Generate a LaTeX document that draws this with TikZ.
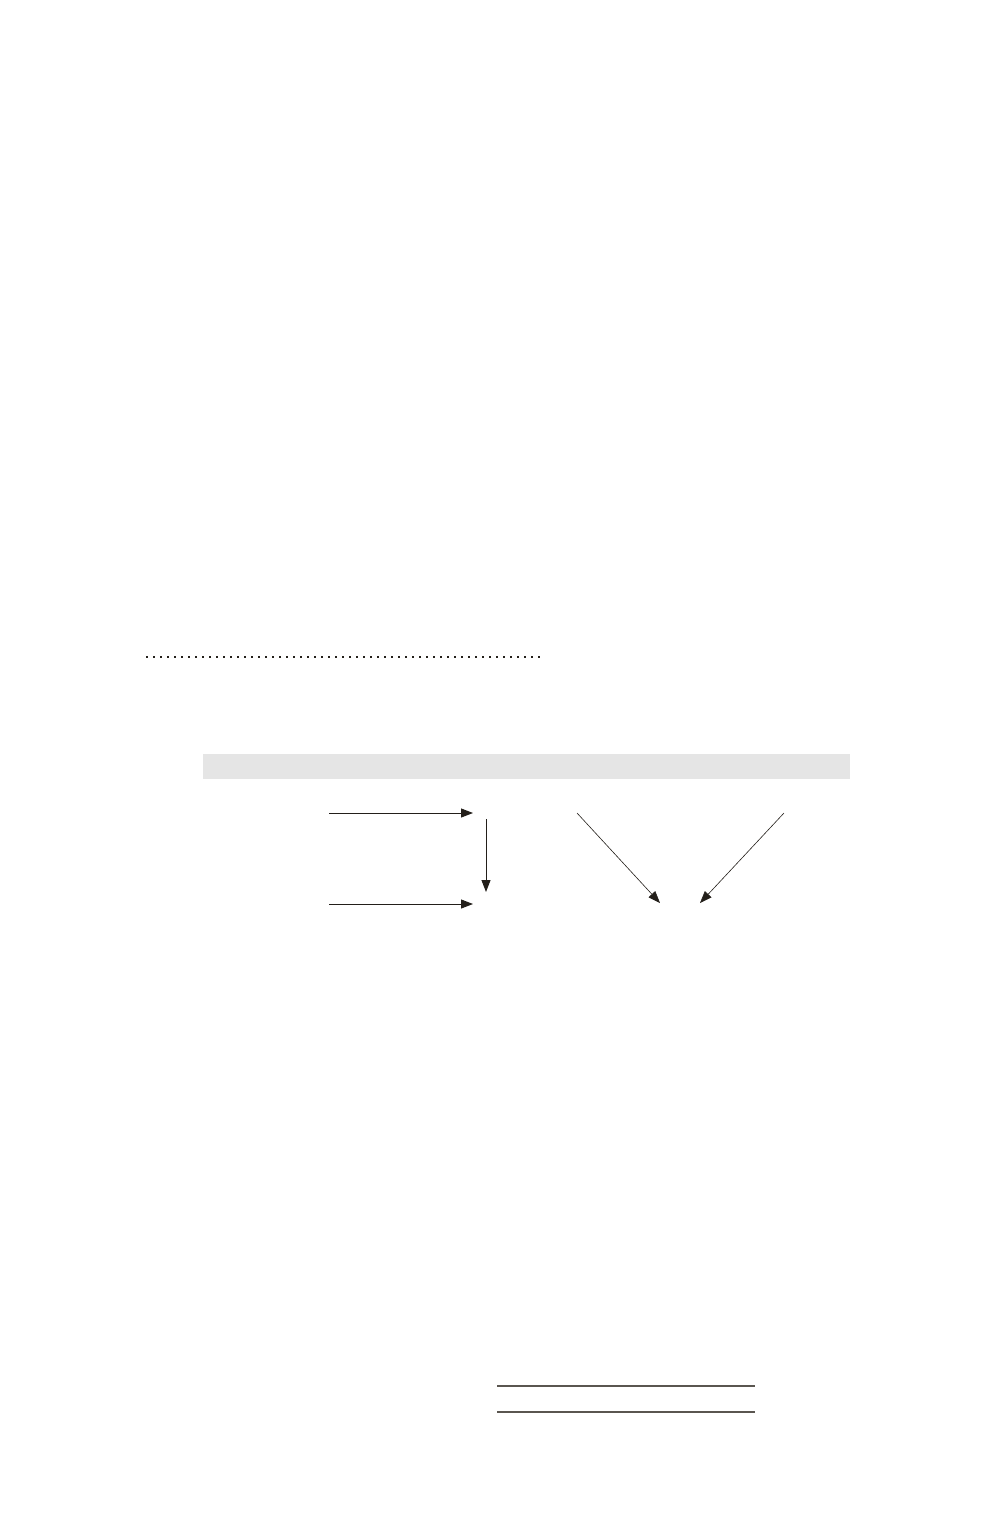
\documentclass[tikz,border=0pt]{standalone}
\usetikzlibrary{arrows.meta}
\definecolor{ink}{HTML}{231F1A}
\definecolor{band}{HTML}{E5E5E5}
\definecolor{rule}{HTML}{5A5650}
\begin{document}
\begin{tikzpicture}[x=1pt,y=-1pt,
  arr/.style={draw=ink,line width=1pt,-{Triangle[length=12pt,width=9pt]}},
  thinarr/.style={draw=ink,line width=0.6pt,-{Triangle[length=12pt,width=9pt]}},
  dotline/.style={draw=ink,line width=2pt,dash pattern=on 2pt off 5pt},
  hrule/.style={draw=rule,line width=1.3pt}]
\useasboundingbox (0,0) rectangle (1000,1528);
\fill[band] (203,754) rectangle (850,779);
\coordinate (d1) at (146,657);
\coordinate (d2) at (540,657);
\draw[dotline] (d1) -- (d2);
\coordinate (a1s) at (329,813);
\coordinate (a1e) at (473,813);
\coordinate (a2s) at (329,904);
\coordinate (a2e) at (473,904);
\coordinate (vs) at (486,819);
\coordinate (ve) at (486,892);
\coordinate (l1s) at (577,813);
\coordinate (l1e) at (660,903);
\coordinate (l2s) at (784,813);
\coordinate (l2e) at (700,903);
\draw[arr] (a1s) -- (a1e);
\draw[arr] (a2s) -- (a2e);
\draw[arr] (vs) -- (ve);
\draw[thinarr] (l1s) -- (l1e);
\draw[thinarr] (l2s) -- (l2e);
\coordinate (r1s) at (497,1386);
\coordinate (r1e) at (755,1386);
\coordinate (r2s) at (497,1412);
\coordinate (r2e) at (755,1412);
\draw[hrule] (r1s) -- (r1e);
\draw[hrule] (r2s) -- (r2e);
\end{tikzpicture}
\end{document}
